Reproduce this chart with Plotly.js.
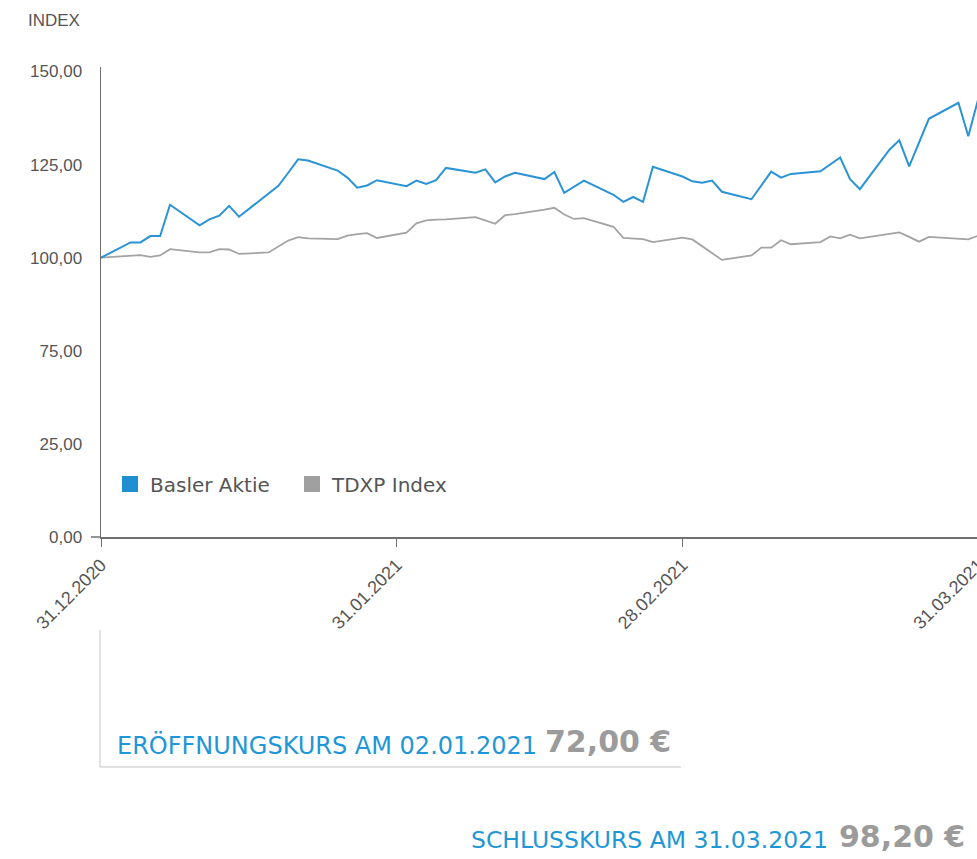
<!DOCTYPE html>
<html>
<head>
<meta charset="utf-8">
<script src="https://cdn.plot.ly/plotly-3.0.1.min.js"></script>
<style>
html,body{margin:0;padding:0;overflow:hidden;background:#fff;}
#chart{width:1000px;height:859px;}
</style>
</head>
<body>
<div id="chart"></div>
<script>
// ---- data ----
const dates = [
  '2021-01-01',
  '2021-01-04','2021-01-05','2021-01-06','2021-01-07','2021-01-08',
  '2021-01-11','2021-01-12','2021-01-13','2021-01-14','2021-01-15',
  '2021-01-18','2021-01-19','2021-01-20','2021-01-21','2021-01-22',
  '2021-01-25','2021-01-26','2021-01-27','2021-01-28','2021-01-29',
  '2021-02-01','2021-02-02','2021-02-03','2021-02-04','2021-02-05',
  '2021-02-08','2021-02-09','2021-02-10','2021-02-11','2021-02-12',
  '2021-02-15','2021-02-16','2021-02-17','2021-02-18','2021-02-19',
  '2021-02-22','2021-02-23','2021-02-24','2021-02-25','2021-02-26',
  '2021-03-01','2021-03-02','2021-03-03','2021-03-04','2021-03-05',
  '2021-03-08','2021-03-09','2021-03-10','2021-03-11','2021-03-12',
  '2021-03-15','2021-03-16','2021-03-17','2021-03-18','2021-03-19',
  '2021-03-22','2021-03-23','2021-03-24','2021-03-25','2021-03-26',
  '2021-03-29','2021-03-30','2021-03-31'
];
const basler = [
  100,
  104.1,104.1,105.8,105.8,114.2,
  108.7,110.3,111.3,113.9,111.0,
  117.3,119.3,122.8,126.4,126.1,
  123.4,121.5,118.8,119.4,120.8,
  119.2,120.7,119.8,120.8,124.1,
  122.8,123.7,120.2,121.8,122.8,
  121.1,123.0,117.4,119.0,120.7,
  116.9,115.0,116.3,115.0,124.4,
  121.8,120.5,120.1,120.7,117.7,
  115.7,119.4,123.1,121.5,122.5,
  123.2,125.1,126.9,121.1,118.4,
  129.0,131.5,124.5,130.9,137.3,
  141.6,132.6,142.5
];
const tdxp = [
  100,
  100.4,100.7,100.2,100.6,102.3,
  101.4,101.4,102.3,102.2,101.0,
  101.4,103.1,104.6,105.5,105.2,
  105.0,105.9,106.3,106.6,105.3,
  106.7,109.2,110.0,110.2,110.3,
  110.9,110.0,109.1,111.4,111.7,
  112.9,113.4,111.6,110.4,110.6,
  108.3,105.3,105.1,105.0,104.2,
  105.4,104.9,103.1,101.2,99.4,
  100.6,102.7,102.7,104.7,103.6,
  104.2,105.7,105.2,106.2,105.2,
  106.4,106.8,105.6,104.3,105.6,
  105.0,104.9,105.9
];
const seriesNames = ['Basler Aktie','TDXP Index'];
const yTickVals = [25,50,75,100,125,150];
const yTickText = ['0,00','25,00','75,00','100,00','125,00','150,00'];
const xTickVals = ['2021-01-01','2021-01-31','2021-03-01','2021-03-31'];
const xTickText = ['31.12.2020','31.01.2021','28.02.2021','31.03.2021'];
const yTitle = 'INDEX';
const openLabel = 'ERÖFFNUNGSKURS AM 02.01.2021';
const openValue = '72,00 €';
const closeLabel = 'SCHLUSSKURS AM 31.03.2021';
const closeValue = '98,20 €';

// ---- layout helpers ----
const W = 1000, H = 859;
const M = {l:101, r:12, t:67, b:322};
const PW = W - M.l - M.r, PH = H - M.t - M.b;
const px2x = p => (p - M.l) / PW;
const px2y = p => (H - M.b - p) / PH;

const BLUE = '#2a93d5', BLUE_TXT = '#1f97d6', GRAY = '#a3a3a3', AXIS = '#707070', TXT = '#555555';
const SANS = '"Liberation Sans", Arial, sans-serif';
const GEO = '"DejaVu Sans", sans-serif';

const traces = [
  {type:'scatter', mode:'lines', x:dates, y:tdxp, name:seriesNames[1], showlegend:false,
   line:{color:GRAY, width:1.8}, hoverinfo:'skip'},
  {type:'scatter', mode:'lines', x:dates, y:basler, name:seriesNames[0], showlegend:false,
   line:{color:BLUE, width:2}, hoverinfo:'skip'},
  {type:'scatter', mode:'markers', x:[null], y:[null], name:seriesNames[0],
   marker:{symbol:'square', size:16, color:'#1f8ed2'}},
  {type:'scatter', mode:'markers', x:[null], y:[null], name:seriesNames[1],
   marker:{symbol:'square', size:16, color:'#a0a0a0'}}
];

const layout = {
  width:W, height:H, margin:M,
  paper_bgcolor:'#fff', plot_bgcolor:'#fff',
  showlegend:true,
  title:{text:yTitle, x:28/W, xanchor:'left', xref:'container', y:1-20/H, yanchor:'middle', yref:'container',
         font:{family:SANS, size:17, color:TXT}},
  xaxis:{type:'date', range:['2021-01-01','2021-04-01'], showgrid:false, zeroline:false,
         showline:true, linecolor:AXIS, linewidth:1.5,
         ticks:'outside', ticklen:8, tickcolor:AXIS, tickwidth:1,
         tickvals:xTickVals, ticktext:xTickText, tickangle:-45, ticklabelstandoff:1,
         tickfont:{family:SANS, size:18, color:TXT}},
  yaxis:{range:[25,151.2], showgrid:false, zeroline:false,
         showline:true, linecolor:AXIS, linewidth:1.5, ticks:'',
         tickvals:yTickVals, ticktext:yTickText, ticklabelstandoff:14,
         tickfont:{family:SANS, size:17, color:TXT}},
  legend:{orientation:'h', x:px2x(110), y:px2y(484), xanchor:'left', yanchor:'middle',
          bgcolor:'rgba(0,0,0,0)', entrywidth:137, font:{family:GEO, size:20, color:TXT}},
  shapes:[
    {type:'line', xref:'paper', yref:'paper', x0:px2x(91), x1:0, y0:0, y1:0, line:{color:AXIS, width:1.5}},
    {type:'line', xref:'paper', yref:'paper', x0:px2x(100), x1:px2x(100), y0:px2y(630), y1:px2y(767), line:{color:'#c4c4c4', width:1}},
    {type:'line', xref:'paper', yref:'paper', x0:px2x(100), x1:px2x(681), y0:px2y(767), y1:px2y(767), line:{color:'#c4c4c4', width:1}}
  ],
  annotations:[
    {xref:'paper', yref:'paper', x:px2x(115), y:px2y(745), xanchor:'left', yanchor:'middle', showarrow:false,
     text:openLabel, font:{family:GEO, size:24, color:BLUE_TXT}},
    {xref:'paper', yref:'paper', x:px2x(543), y:px2y(741), xanchor:'left', yanchor:'middle', showarrow:false,
     text:openValue, font:{family:GEO, size:30, weight:'bold', color:'#9b9b9b'}},
    {xref:'paper', yref:'paper', x:px2x(469), y:px2y(840), xanchor:'left', yanchor:'middle', showarrow:false,
     text:closeLabel, font:{family:GEO, size:23.5, color:BLUE_TXT}},
    {xref:'paper', yref:'paper', x:px2x(837), y:px2y(836), xanchor:'left', yanchor:'middle', showarrow:false,
     text:closeValue, font:{family:GEO, size:30, weight:'bold', color:'#9b9b9b'}}
  ]
};

Plotly.newPlot('chart', traces, layout, {staticPlot:true, displayModeBar:false});
</script>
</body>
</html>
